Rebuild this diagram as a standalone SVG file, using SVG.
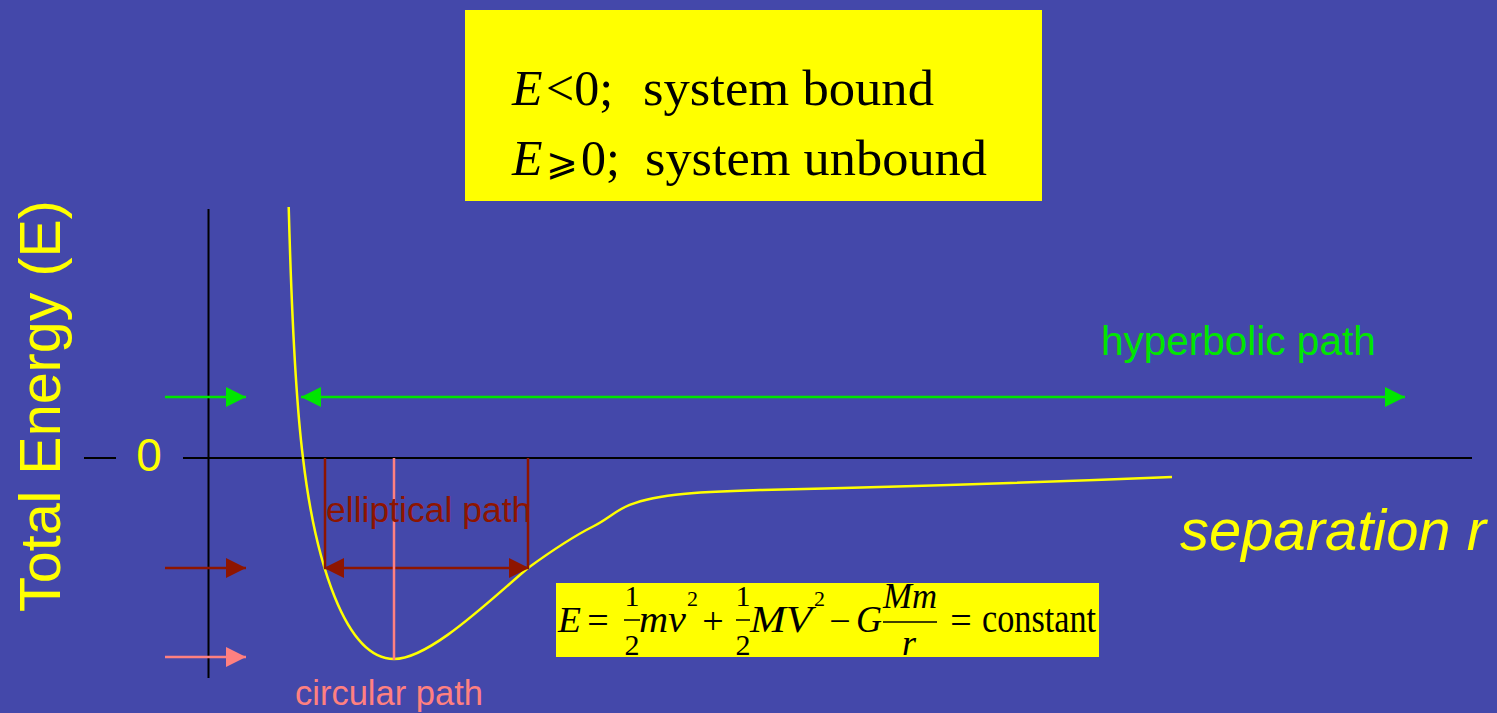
<svg xmlns="http://www.w3.org/2000/svg" width="1497" height="713" viewBox="0 0 1497 713">
  <style>
    .sans { font-family: "Liberation Sans", Arial, sans-serif; }
    .serif { font-family: "Liberation Serif", "Times New Roman", serif; fill: #000; }
    .it { font-style: italic; }
    .axis { stroke: #000; stroke-width: 2; fill: none; }
    .g { stroke: #00e600; stroke-width: 2.5; fill: none; }
    .r { stroke: #8e1500; stroke-width: 2.5; fill: none; }
    .p { stroke: #ff8080; stroke-width: 2.5; fill: none; }
    .bar { stroke: #000; stroke-width: 1.5; }
  </style>
  <defs>
    <marker id="mg" viewBox="0 0 20 20" refX="20" refY="10" markerWidth="20" markerHeight="20" markerUnits="userSpaceOnUse" orient="auto-start-reverse">
      <path d="M0,0 L20,10 L0,20 z" fill="#00e600"/>
    </marker>
    <marker id="mr" viewBox="0 0 20 20" refX="20" refY="10" markerWidth="20" markerHeight="20" markerUnits="userSpaceOnUse" orient="auto-start-reverse">
      <path d="M0,0 L20,10 L0,20 z" fill="#8e1500"/>
    </marker>
    <marker id="mp" viewBox="0 0 20 20" refX="20" refY="10" markerWidth="20" markerHeight="20" markerUnits="userSpaceOnUse" orient="auto-start-reverse">
      <path d="M0,0 L20,10 L0,20 z" fill="#ff8080"/>
    </marker>
  </defs>
  <rect width="1497" height="713" fill="#4448aa"/>

  <g id="condition-box">
    <rect x="465" y="10" width="577" height="191" fill="#ffff00"/>
    <text class="serif" font-size="50" y="105"><tspan x="512" class="it">E</tspan><tspan x="546">&lt;0;</tspan><tspan x="643" textLength="291" lengthAdjust="spacingAndGlyphs">system bound</tspan></text>
    <text class="serif" font-size="50" y="175"><tspan x="512" class="it">E</tspan><tspan x="546" font-family="'DejaVu Serif', 'Liberation Serif', serif" font-size="38">⩾</tspan><tspan x="581">0;</tspan><tspan x="645" textLength="342" lengthAdjust="spacingAndGlyphs">system unbound</tspan></text>
  </g>

  <g id="axes">
    <line class="axis" x1="208.5" y1="209" x2="208.5" y2="678"/>
    <line class="axis" x1="183" y1="458" x2="1472" y2="458"/>
    <line class="axis" x1="84" y1="458" x2="116" y2="458"/>
    <text class="sans" font-size="46" x="149" y="471" text-anchor="middle" fill="#ffff00">0</text>
    <text class="sans" font-size="57" fill="#ffff00" transform="translate(60,612) rotate(-90)" textLength="412" lengthAdjust="spacingAndGlyphs">Total Energy (E)</text>
    <text class="sans it" font-size="57" x="1180" y="550" fill="#ffff00" textLength="306" lengthAdjust="spacingAndGlyphs">separation r</text>
  </g>

  <g id="energy-curve">
    <path d="M 288.7 207 C 292 330, 297 410, 303 458 C 315 560, 345 659, 394 659 C 430 659, 490 600, 528 568 C 550 552, 572 537, 594 526 C 606 520, 613 513, 625 507 C 650 495, 690 492, 760 490 C 900 487, 1050 482, 1172 477" fill="none" stroke="#ffff00" stroke-width="2.5"/>
  </g>

  <g id="connectors">
    <line class="g" x1="165" y1="397" x2="246" y2="397" marker-end="url(#mg)"/>
    <line class="g" x1="301" y1="397" x2="1405" y2="397" marker-start="url(#mg)" marker-end="url(#mg)"/>
    <line class="r" x1="165" y1="568" x2="246" y2="568" marker-end="url(#mr)"/>
    <line class="r" x1="325" y1="458" x2="325" y2="568"/>
    <line class="r" x1="528" y1="458" x2="528" y2="568"/>
    <line class="r" x1="324" y1="568" x2="529" y2="568" marker-start="url(#mr)" marker-end="url(#mr)"/>
    <line class="p" x1="165" y1="657" x2="246" y2="657" marker-end="url(#mp)"/>
    <line class="p" x1="394" y1="458" x2="394" y2="660"/>
  </g>

  <g id="hyperbolic-label">
    <text class="sans" font-size="40.5" x="1101" y="355" fill="#00e600">hyperbolic path</text>
  </g>
  <g id="elliptical-label">
    <text class="sans" font-size="35.5" x="326" y="522" fill="#8e1500">elliptical path</text>
  </g>
  <g id="circular-label">
    <text class="sans" font-size="34.5" x="295" y="705" fill="#ff8080">circular path</text>
  </g>

  <g id="formula-box">
    <rect x="556" y="583" width="543" height="74" fill="#ffff00"/>
    <text class="serif it" font-size="36" x="558" y="632" textLength="23" lengthAdjust="spacingAndGlyphs">E</text>
    <text class="serif" font-size="38" x="598" y="633" text-anchor="middle">=</text>
    <text class="serif" font-size="30" x="632" y="606" text-anchor="middle">1</text>
    <line class="bar" x1="624" y1="620" x2="640" y2="620"/>
    <text class="serif" font-size="30" x="632" y="655" text-anchor="middle">2</text>
    <text class="serif it" font-size="38" x="639" y="632" textLength="47" lengthAdjust="spacingAndGlyphs">mv</text>
    <text class="serif" font-size="22" x="687" y="606">2</text>
    <text class="serif" font-size="38" x="713" y="634" text-anchor="middle">+</text>
    <text class="serif" font-size="30" x="743" y="606" text-anchor="middle">1</text>
    <line class="bar" x1="736" y1="620" x2="750" y2="620"/>
    <text class="serif" font-size="30" x="743" y="655" text-anchor="middle">2</text>
    <text class="serif it" font-size="38" x="750" y="632" textLength="62" lengthAdjust="spacingAndGlyphs">MV</text>
    <text class="serif" font-size="22" x="814" y="606">2</text>
    <text class="serif" font-size="38" x="840" y="634" text-anchor="middle">−</text>
    <text class="serif it" font-size="37" x="856" y="632" textLength="26" lengthAdjust="spacingAndGlyphs">G</text>
    <text class="serif it" font-size="36" x="883" y="608" textLength="54" lengthAdjust="spacingAndGlyphs">Mm</text>
    <line class="bar" x1="883" y1="622" x2="937" y2="622"/>
    <text class="serif it" font-size="36" x="909" y="655" text-anchor="middle">r</text>
    <text class="serif" font-size="38" x="961" y="633" text-anchor="middle">=</text>
    <text class="serif" font-size="39" x="982" y="632" textLength="114" lengthAdjust="spacingAndGlyphs">constant</text>
  </g>
</svg>
